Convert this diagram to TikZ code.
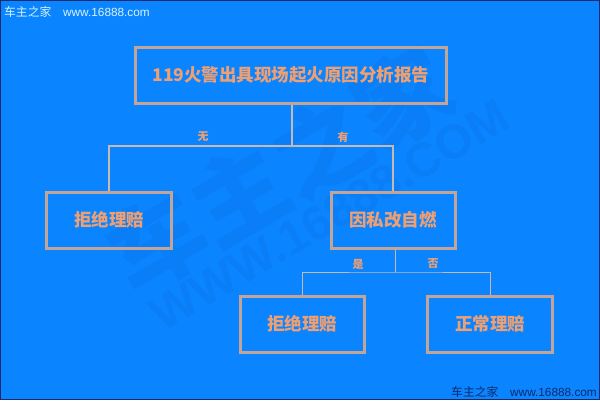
\documentclass[tikz,border=0pt]{standalone}
\usepackage{fontspec}
\usepackage{tikz}
\usetikzlibrary{positioning}
\newfontfamily\cjk{Noto Sans CJK SC}
\newfontfamily\wmfont{Liberation Sans}
\definecolor{bgblue}{HTML}{0A84FF}
\definecolor{frameblue}{HTML}{1A2A6A}
\definecolor{boxline}{HTML}{C2A596}
\definecolor{boxtext}{HTML}{EFA072}
\definecolor{linkline}{HTML}{C6B8B2}
\definecolor{wmdark}{HTML}{0A2A6A}

\begin{document}
\begin{tikzpicture}[x=1pt,y=-1pt]
\tikzstyle{every node}+=[inner sep=0pt]
\tikzstyle{reportbox}=[draw=boxline, line width=3pt, minimum height=56pt, font=\cjk\bfseries\fontsize{17.5}{17.5}\selectfont, text=boxtext]
\tikzstyle{branchlbl}=[font=\cjk\bfseries\fontsize{11}{11}\selectfont, text=boxtext]
\tikzstyle{link}=[draw=linkline, line width=2pt]
\tikzstyle{thinlink}=[draw=linkline, line width=1pt]
\tikzstyle{cornermark}=[font=\cjk\fontsize{11.8}{12}\selectfont]
% background and frame
\fill [bgblue] (0,0) rectangle (600,400);
\draw [frameblue, line width=1pt] (0.5,0.5) rectangle (599.5,399.5);
\useasboundingbox (0,0) rectangle (600,400);
% faint watermark
\node [rotate=30.5, opacity=0.06, text=wmdark, font=\cjk\bfseries\fontsize{95}{95}\selectfont] (wmlogo) at (280,170) {车主之家};
\node [rotate=30.5, opacity=0.06, text=wmdark, font=\wmfont\bfseries\fontsize{48}{48}\selectfont] (wmsite) at (330,215) {WWW.16888.COM};
% corner marks
\node [cornermark, anchor=west, text=white!85!cyan] (wmtl) at (4,12) {车主之家\quad{\wmfont www.16888.com}};
\node [cornermark, anchor=east, text=wmdark] (wmbr) at (597,392) {车主之家\quad{\wmfont www.16888.com}};
% boxes
\node [reportbox, minimum width=311pt] (report) at (291,75) {119火警出具现场起火原因分析报告};
\node [reportbox, minimum width=125pt] (refuseA) at (109,220) {拒绝理赔};
\node [reportbox, minimum width=124pt] (arson) at (393,220) {因私改自燃};
\node [reportbox, minimum width=124pt] (refuseB) at (302,324) {拒绝理赔};
\node [reportbox, minimum width=125pt] (normal) at (490,324) {正常理赔};
% upper branch
\coordinate (fork1) at (292,146);
\draw [link] (report.south -| fork1) -- (fork1);
\draw [link] (refuseA.north) |- (fork1) -| (arson.north);
\node [branchlbl] (no) at (203,137) {无};
\node [branchlbl] (yes) at (343,137) {有};
% lower branch
\coordinate (fork2) at (395,272);
\draw [thinlink] (arson.south -| fork2) -- (fork2);
\draw [thinlink] (refuseB.north) |- (fork2) -| (normal.north);
\node [branchlbl] (isit) at (358,264) {是};
\node [branchlbl] (isnot) at (433,264) {否};
\end{tikzpicture}
\end{document}
